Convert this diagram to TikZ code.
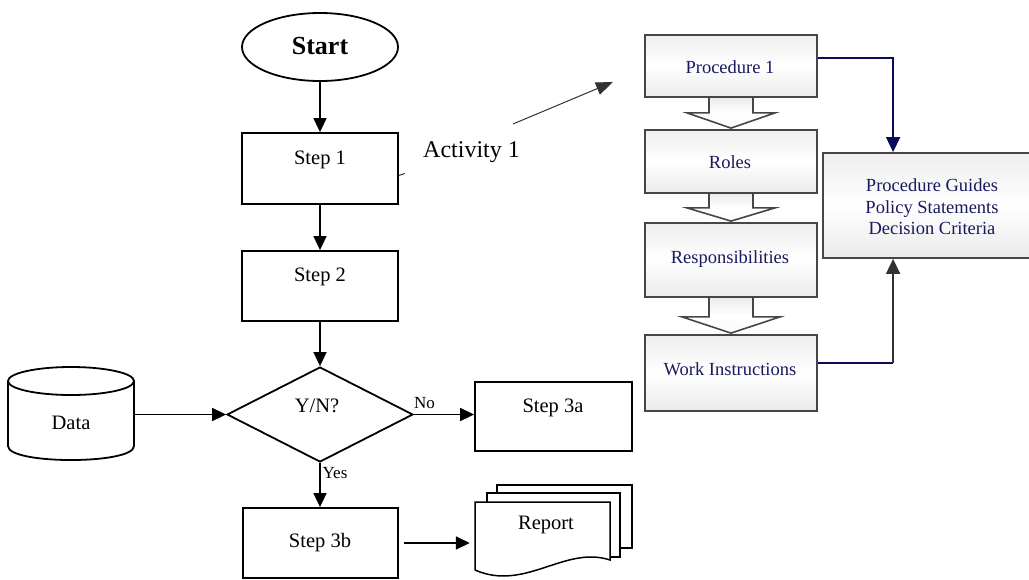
\documentclass[tikz,border=0pt]{standalone}
\usepackage{fontspec}
\setmainfont{Liberation Serif}
\usetikzlibrary{arrows.meta,shapes.geometric,calc}

\definecolor{navyline}{RGB}{10,10,90}
\definecolor{navytext}{RGB}{25,25,95}
\definecolor{boxline}{RGB}{70,70,70}
\definecolor{darkarrow}{RGB}{50,50,50}

\tikzset{
  flow/.style={draw=black, line width=1.8pt},
  stepbox/.style={flow, rectangle, fill=white, minimum width=156pt, inner sep=0pt},
  arr/.style={line width=1.7pt, -{Triangle[length=14pt,width=13pt]}},
  lbl/.style={font=\fontsize{20.5}{24}\selectfont, inner sep=0pt, anchor=base},
  smalllbl/.style={font=\fontsize{17}{20}\selectfont, inner sep=0pt, anchor=base},
  doc/.style={draw=black, line width=1.5pt, fill=white},
  proc/.style={draw=boxline, line width=1.8pt, rectangle, minimum width=172pt, inner sep=0pt,
    top color=gray!13, bottom color=gray!16, middle color=white},
  ptxt/.style={text=navytext, font=\fontsize{18.5}{21.5}\selectfont, inner sep=0pt, anchor=base},
  blockarrow/.style={draw=boxline, line width=1.6pt, line join=miter,
    top color=gray!15, bottom color=gray!4, middle color=white},
  navyarr/.style={draw=navyline, line width=1.8pt, -{Triangle[length=15pt,width=14pt]}},
  grayarr/.style={draw=darkarrow, line width=1.8pt, -{Triangle[length=15pt,width=14pt]}},
}

% block arrow from the bottom of #1 down to the top of #2;
% #3 = half width of the head, #4 = length of the shaft
\newcommand\flowblockarrow[4]{%
  \path[blockarrow] ($(#1.south)+(-22,0)$) -- ($(#1.south)+(-22,#4)$)
    -- ($(#1.south)+(-#3,#4)$) -- ([yshift=1pt]#2.north) -- ($(#1.south)+(#3,#4)$)
    -- ($(#1.south)+(22,#4)$) -- ($(#1.south)+(22,0)$);
}

\begin{document}
\begin{tikzpicture}[x=1pt,y=-1pt]
\useasboundingbox (0,0) rectangle (1029,579);
\clip (0,0) rectangle (1029,579);

% ---------------- main flow ----------------
\node[flow, ellipse, minimum width=156pt, minimum height=68pt, inner sep=0pt] (start) at (320,47) {};
\node[lbl, font=\fontsize{26}{30}\selectfont\bfseries] (starttxt) at (320,54) {Start};

\node[stepbox, minimum height=71pt] (s1) at (320,168.5) {};
\node[lbl] (s1txt) at (320,164) {Step 1};

\node[stepbox, minimum height=70pt] (s2) at (320,286) {};
\node[lbl] (s2txt) at (320,281) {Step 2};

\node[flow, diamond, aspect=2, minimum width=186pt, minimum height=95pt, inner sep=0pt] (dec) at (320,414.5) {};
\node[lbl] (dectxt) at (317,412) {Y/N?};

\node[stepbox, minimum width=157pt, minimum height=69pt] (s3a) at (553.5,416.5) {};
\node[lbl] (s3atxt) at (553,412) {Step 3a};

\node[stepbox, minimum width=155pt, minimum height=70pt] (s3b) at (320.5,543) {};
\node[lbl] (s3btxt) at (320,547) {Step 3b};

% data store (cylinder)
\node[minimum width=126pt, minimum height=93pt, inner sep=0pt] (data) at (71,414.5) {};
\draw[flow, fill=white] (8,381) -- (8,446) .. controls (8,464.7) and (134,464.7) .. (134,446) -- (134,381);
\draw[flow, fill=white] (71,381) ellipse [x radius=63pt, y radius=14pt];
\node[lbl] (datatxt) at (71,429) {Data};

% report (multi-document)
\draw[doc] (497,485) rectangle (632,548);
\draw[doc] (487,493) rectangle (620,557);
\draw[doc] (475,502) -- (610,502) -- (610,560) .. controls (565,545) and (525,592) .. (475,570) -- cycle;
\node[inner sep=0pt, minimum size=0pt] (report) at (475,543) {};
\node[lbl] (reporttxt) at (546,529) {Report};

% connectors
\draw[arr] (start) -- (s1);
\draw[arr] (s1) -- (s2);
\draw[arr] (s2) -- (dec);
\draw[arr] (data.east) -- (data.east -| dec.west);
\draw[arr] (dec.east) -- (dec.east -| s3a.west);
\draw[arr] (dec.south) -- (dec.south |- s3b.north);
\draw[arr, shorten <=5pt, shorten >=5pt] (s3b.east) -- (report);
\node[smalllbl] (notxt) at (424.5,408) {No};
\node[smalllbl] (yestxt) at (335,478) {Yes};

% activity label and pointer
\draw[darkarrow, line width=0.9pt] ([yshift=-7pt]s1.east) -- ++(6,-2);
\node[inner sep=0pt, anchor=base west, font=\fontsize{24}{28}\selectfont] (act) at (423,157) {Activity 1};
\coordinate (actfrom) at (513,124);
\coordinate (actto) at (613,82);
\draw[darkarrow, line width=1pt, -{Triangle[length=17pt,width=13pt]}] (actfrom) -- (actto);

% ---------------- procedure column ----------------
\coordinate (p1c) at (731,66);
\coordinate (roc) at (731,161.5);
\coordinate (rec) at (731,260);
\coordinate (wic) at (731,373);
\path (p1c) node[proc, minimum height=62pt, draw=none, fill=none, shade=none] (p1) {};
\path (roc) node[proc, minimum height=63pt, draw=none, fill=none, shade=none] (ro) {};
\path (rec) node[proc, minimum height=74pt, draw=none, fill=none, shade=none] (re) {};
\path (wic) node[proc, minimum height=76pt, draw=none, fill=none, shade=none] (wi) {};

\flowblockarrow{p1}{ro}{44}{15}
\flowblockarrow{ro}{re}{44}{14}
\flowblockarrow{re}{wi}{49}{19}

\node[proc, minimum height=62pt] (p1box) at (p1c) {};
\node[proc, minimum height=63pt] (robox) at (roc) {};
\node[proc, minimum height=74pt] (rebox) at (rec) {};
\node[proc, minimum height=76pt] (wibox) at (wic) {};

\node[ptxt] (p1txt) at (730,73) {Procedure 1};
\node[ptxt] (rotxt) at (730,168) {Roles};
\node[ptxt] (retxt) at (730,263) {Responsibilities};
\node[ptxt] (witxt) at (730,375) {Work Instructions};

\node[proc, minimum width=218pt, minimum height=105pt] (pg) at (932,205.5) {};
\node[text=navytext, font=\fontsize{18.5}{21.5}\selectfont, align=center, inner sep=0pt] (pgtxt) at (932,207)
  {Procedure Guides\\Policy Statements\\Decision Criteria};

% links into the guides box
\coordinate (pgtop) at ($(pg.north west)+(71,0)$);
\coordinate (pgbottom) at ($(pg.south west)+(71,0)$);
\coordinate (wiout) at ([yshift=10pt]wibox.east);
\coordinate (wibend) at (pgbottom |- wiout);
\draw[navyarr] ([yshift=8pt]p1box.east) -| (pgtop);
\draw[navyline, line width=1.8pt] (wiout) -- (wibend);
\draw[grayarr] (wibend) -- (pgbottom);

\end{tikzpicture}
\end{document}
